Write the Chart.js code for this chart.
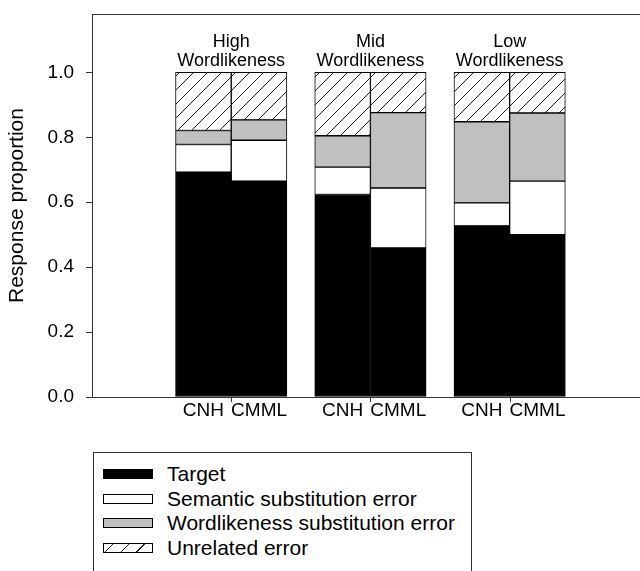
<!DOCTYPE html>
<html>
<head>
<meta charset="utf-8">
<script src="https://cdn.jsdelivr.net/npm/chart.js@4.4.0/dist/chart.umd.min.js"></script>
<style>
  html, body { margin: 0; padding: 0; background: #fff; overflow: hidden; width: 640px; height: 571px; }
  #wrap { position: relative; width: 640px; height: 571px; }
  #chart { position: absolute; left: 0; top: 0; }
  #legend {
    position: absolute; left: 93px; top: 452px; width: 379px; height: 140px;
    border: 1px solid #333; box-sizing: border-box;
    font-family: Arial, 'Liberation Sans', sans-serif; font-size: 21px; color: #000;
  }
  .item { position: absolute; left: 9px; height: 24px; display: flex; align-items: center; white-space: nowrap; }
  .swatch { width: 48px; height: 8px; border: 1px solid #000; margin-right: 14px; }
</style>
</head>
<body>
<div id="wrap">
  <canvas id="chart" width="680" height="440"></canvas>
  <div id="legend"></div>
</div>
<script>
// word-likeness conditions and the two groups in each
const groups = ['High', 'Mid', 'Low'];
const subjects = ['CNH', 'CMML'];

// response proportions, order: High CNH, High CMML, Mid CNH, Mid CMML, Low CNH, Low CMML
const target    = [0.693, 0.665, 0.624, 0.459, 0.527, 0.500];
const semantic  = [0.085, 0.126, 0.084, 0.185, 0.071, 0.165];
const wordlike  = [0.043, 0.063, 0.097, 0.232, 0.250, 0.210];
const unrelated = [0.179, 0.146, 0.195, 0.124, 0.152, 0.125];

const seriesNames = ['Target', 'Semantic substitution error', 'Wordlikeness substitution error', 'Unrelated error'];
const yTicks = [0, 0.2, 0.4, 0.6, 0.8, 1.0];

const FONT = "Arial, 'Liberation Sans', sans-serif";
const AXIS = '#333';

// bar slots: two touching bars per condition, gap between conditions
const barX = [];
groups.forEach((g, gi) => subjects.forEach((s, si) => barX.push(gi * 2.5 + si)));

function hatch() {
  const c = document.createElement('canvas');
  c.width = 14; c.height = 14;
  const g = c.getContext('2d');
  g.fillStyle = '#fff';
  g.fillRect(0, 0, 14, 14);
  g.strokeStyle = '#222';
  g.lineWidth = 1;
  g.beginPath();
  g.moveTo(0, 14); g.lineTo(14, 0);
  g.moveTo(-7, 7); g.lineTo(7, -7);
  g.moveTo(7, 21); g.lineTo(21, 7);
  g.stroke();
  return g.createPattern(c, 'repeat');
}

const fills = ['#000', '#fff', '#c0c0c0', hatch()];
const cssFills = ['#000', '#fff', '#c0c0c0',
  'repeating-linear-gradient(135deg, #fff 0 6px, #222 6px 7px, #fff 7px 11px)'];

const series = [target, semantic, wordlike, unrelated];

// outer frame of the plot
const framePlugin = {
  id: 'frame',
  afterDraw(chart) {
    const { ctx, chartArea: a } = chart;
    ctx.save();
    ctx.strokeStyle = AXIS;
    ctx.lineWidth = 1;
    ctx.strokeRect(Math.round(a.left) + 0.5, Math.round(a.top) + 0.5,
      Math.round(a.right - a.left), Math.round(a.bottom - a.top));
    ctx.restore();
  }
};

// divider ticks under the axis and the condition labels above each pair
const groupPlugin = {
  id: 'groupLabels',
  afterDraw(chart) {
    const { ctx, scales: { x, y } } = chart;
    const bottom = Math.round(y.getPixelForValue(0));
    const topY = y.getPixelForValue(1.0);
    ctx.save();
    ctx.strokeStyle = AXIS;
    ctx.lineWidth = 1;
    ctx.fillStyle = '#000';
    ctx.font = '18px ' + FONT;
    ctx.textAlign = 'center';
    ctx.textBaseline = 'alphabetic';
    groups.forEach((g, gi) => {
      const a = x.getPixelForValue(barX[gi * 2]);
      const b = x.getPixelForValue(barX[gi * 2 + 1]);
      const mid = Math.round((a + b) / 2) + 0.5;
      ctx.beginPath();
      ctx.moveTo(mid, bottom);
      ctx.lineTo(mid, bottom + 5);
      ctx.stroke();
      ctx.fillText(g, (a + b) / 2, topY - 25);
      ctx.fillText('Wordlikeness', (a + b) / 2, topY - 6);
    });
    ctx.restore();
  }
};

new Chart(document.getElementById('chart'), {
  type: 'bar',
  data: {
    datasets: series.map((vals, i) => ({
      label: seriesNames[i],
      data: vals.map((v, j) => ({ x: barX[j], y: v })),
      backgroundColor: fills[i],
      borderColor: '#000',
      borderWidth: 1,
      borderSkipped: false,
      barPercentage: 1,
      categoryPercentage: 1
    }))
  },
  options: {
    responsive: false,
    animation: false,
    events: [],
    layout: { padding: { top: 14, right: 20, left: 0, bottom: 0 } },
    plugins: { legend: { display: false }, tooltip: { enabled: false } },
    scales: {
      x: {
        type: 'linear',
        stacked: true,
        offset: false,
        min: -2,
        max: 8.2,
        afterBuildTicks: s => { s.ticks = barX.map(v => ({ value: v })); },
        afterFit: s => { s.height = 43; s.paddingLeft = 0; s.paddingRight = 0; },
        grid: { display: false, drawTicks: false },
        border: { display: false },
        ticks: {
          autoSkip: false,
          maxRotation: 0,
          padding: 2,
          color: '#000',
          font: { family: FONT, size: 19 },
          callback: (v, i) => subjects[i % subjects.length]
        }
      },
      y: {
        stacked: true,
        min: 0,
        max: 1.18,
        afterBuildTicks: s => { s.ticks = yTicks.map(v => ({ value: v })); },
        afterFit: s => { s.width = 92; s.paddingTop = 0; s.paddingBottom = 0; },
        grid: { drawOnChartArea: false, drawTicks: true, tickLength: 6, tickColor: AXIS },
        border: { display: false },
        ticks: {
          padding: 12,
          color: '#000',
          font: { family: FONT, size: 19 },
          callback: v => v.toFixed(1)
        },
        title: {
          display: true,
          text: 'Response proportion',
          color: '#000',
          font: { family: FONT, size: 21 },
          padding: { top: 5, bottom: 0 }
        }
      }
    }
  },
  plugins: [framePlugin, groupPlugin]
});

// legend built from the same series names and fills
const legend = document.getElementById('legend');
seriesNames.forEach((name, i) => {
  const row = document.createElement('div');
  row.className = 'item';
  row.style.top = (9 + i * 24.7) + 'px';
  const sw = document.createElement('span');
  sw.className = 'swatch';
  sw.style.background = cssFills[i];
  const label = document.createElement('span');
  label.textContent = name;
  row.appendChild(sw);
  row.appendChild(label);
  legend.appendChild(row);
});
</script>
</body>
</html>
